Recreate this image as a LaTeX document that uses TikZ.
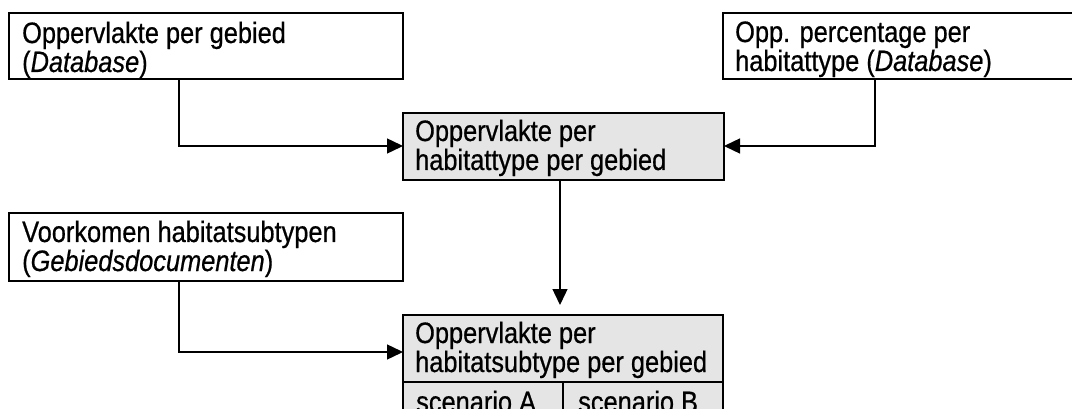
\documentclass[tikz,border=0pt]{standalone}
\usepackage{fontspec}
\setmainfont[FakeStretch=0.86,FakeBold=0.6]{Liberation Sans}
\usetikzlibrary{arrows.meta}
\begin{document}
\begin{tikzpicture}[x=1pt,y=-1pt,
  box/.style={draw=black,line width=2pt,inner sep=0pt,outer sep=0pt,anchor=north west},
  graybox/.style={box,fill=black!10},
  txt/.style={anchor=base west,inner sep=0pt,font=\fontsize{29.5}{29}\selectfont},
  conn/.style={draw=black,line width=1.4pt,-{Triangle[length=16pt,width=15pt]}}]
\useasboundingbox (0,0) rectangle (1072,409);
\clip (0,0) rectangle (1072,409);
% boxes
\node[box,minimum width=394pt,minimum height=66pt] (B1) at (9,13) {};
\node[graybox,minimum width=321pt,minimum height=67pt] (B2) at (403,113) {};
\node[box,minimum width=360pt,minimum height=66pt] (B3) at (723,13) {};
\node[box,minimum width=394pt,minimum height=68pt] (B4) at (9,213) {};
\node[graybox,minimum width=320pt,minimum height=130pt] (B5) at (403,315) {};
\draw[line width=2pt] (B5.west |- 0,382) -- (B5.east |- 0,382);
\draw[line width=2pt] (563,382) -- (B5.south -| 563,0);
% texts
\node[txt] (t1a) at (22,43) {Oppervlakte per gebied};
\node[txt] (t1b) at (22,72) {(\textit{Database})};
\node[txt] (t2a) at (415,141) {Oppervlakte per};
\node[txt] (t2b) at (415,170) {habitattype per gebied};
\node[txt] (t3a) at (735,42) {Opp. percentage per};
\node[txt] (t3b) at (735,71) {habitattype (\textit{Database})};
\node[txt] (t4a) at (22,242) {Voorkomen habitatsubtypen};
\node[txt] (t4b) at (22,271) {(\textit{Gebiedsdocumenten})};
\node[txt] (t5a) at (415,343) {Oppervlakte per};
\node[txt] (t5b) at (415,372) {habitatsubtype per gebied};
\node[txt] (t5c) at (416,412) {scenario A};
\node[txt] (t5d) at (578,412) {scenario B};
% connectors
\coordinate (c1) at (179,146);
\coordinate (c3) at (875,146);
\coordinate (c6) at (560,305);
\coordinate (c4) at (179,352);
\draw[conn] (B1.south -| c1) |- (B2.west |- c1);
\draw[conn] (B3.south -| c3) |- (B2.east |- c3);
\draw[conn] (B2.south -| c6) -- (c6);
\draw[conn] (B4.south -| c4) |- (B5.west |- c4);
\end{tikzpicture}
\end{document}
